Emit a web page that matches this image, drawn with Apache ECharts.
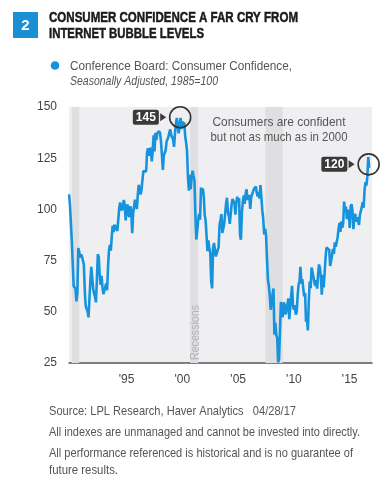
<!DOCTYPE html>
<html><head><meta charset="utf-8">
<script src="https://cdn.jsdelivr.net/npm/echarts@6/dist/echarts.min.js"></script>
<style>html,body{margin:0;padding:0;background:#fff}#c{width:390px;height:491px}</style>
</head><body><div id="c"></div>
<script>
const FONT = "'Liberation Sans', Arial, sans-serif";

// Monthly data, May 1990 .. Apr 2017
const startYear = 1990;
const startMonth = 5;
const confidence = [
  107.3,102.4,101.7,84.7,85.6,62.6,61.7,61.2,
  55.1,59.4,81.1,79.4,76.4,78.0,77.0,76.1,72.9,60.1,52.7,52.5,
  50.2,47.3,56.5,65.1,71.9,72.6,61.2,59.0,57.3,54.6,65.6,78.1,
  76.7,68.5,63.2,67.6,61.9,58.6,59.2,59.3,63.8,60.5,71.9,79.8,
  82.6,79.9,86.7,92.1,88.9,92.5,91.3,90.4,89.5,89.1,100.4,103.4,
  101.4,99.4,100.2,104.6,102.0,94.6,101.4,102.4,97.3,96.3,101.6,99.2,
  88.4,98.0,98.4,104.8,103.5,100.1,107.0,112.0,111.8,107.3,109.5,114.2,
  118.7,118.9,118.5,118.5,127.9,129.9,126.3,127.6,130.2,123.4,128.1,136.2,
  128.3,137.4,133.8,137.2,136.3,138.2,137.2,133.1,126.4,119.3,126.4,126.7,
  128.9,133.1,134.0,135.5,137.7,139.0,136.2,136.0,134.2,130.5,137.0,141.7,
  144.7,140.8,137.1,137.7,144.7,139.2,143.0,140.8,142.5,135.8,132.6,128.6,
  115.7,109.2,116.9,109.9,116.1,118.9,116.3,114.0,97.0,85.3,84.9,94.6,
  97.8,95.0,110.7,108.5,110.3,106.3,97.4,94.5,93.7,79.6,84.9,80.7,
  78.8,64.8,61.4,81.0,83.6,83.5,77.0,76.6,76.8,81.7,92.5,94.8,
  97.7,88.5,88.5,93.0,93.1,102.8,105.7,98.7,96.7,92.9,92.6,102.7,
  105.1,104.4,103.0,97.5,103.1,106.2,103.6,105.5,87.5,85.2,98.3,103.8,
  106.8,102.7,107.5,109.8,104.7,105.4,107.0,100.2,105.9,105.1,105.3,110.0,
  110.2,111.2,108.2,106.3,108.5,105.3,111.9,105.6,99.5,95.2,87.8,90.6,
  87.3,76.4,65.9,62.8,58.1,51.0,51.9,58.5,61.4,38.8,44.7,38.6,
  37.4,25.3,26.9,40.8,54.8,49.3,47.4,54.5,53.4,48.7,50.6,53.6,
  56.5,46.4,52.3,57.7,62.7,52.9,51.0,53.2,48.6,49.9,57.8,63.4,
  64.8,72.0,63.8,66.0,61.7,57.6,59.2,45.2,46.4,40.9,55.2,64.8,
  61.5,71.6,69.5,68.7,64.4,62.7,65.4,61.3,68.4,73.1,71.5,66.7,
  58.4,68.0,61.9,69.0,76.2,81.4,81.0,81.8,80.2,72.4,72.0,77.5,
  80.7,78.3,83.9,81.7,82.2,86.4,90.3,93.4,89.0,94.1,91.0,93.1,
  103.8,98.8,101.4,95.2,94.6,99.8,91.0,101.3,102.6,99.1,90.4,96.3,
  97.8,94.0,96.1,94.7,92.4,97.4,96.7,101.1,103.5,100.8,109.4,113.3,
  111.6,116.1,125.6,120.3
];
const recessions = [[1990.58, 1991.25], [2001.2, 2001.92], [2007.95, 2009.5]];
const xLabelValues = [1995.5, 2000.5, 2005.5, 2010.5, 2015.5];
const xLabelTexts = ["'95", "'00", "'05", "'10", "'15"];
const notes = [
  { t: 2000.3, v: 145, text: '145' },
  { t: 2017.2, v: 122, text: '120' }
];

const points = confidence.map((v, i) => [startYear + (startMonth - 1 + i) / 12, v]);

// text helper: condensed look by horizontal scaling to a target width
const ctx = document.createElement('canvas').getContext('2d');
function txt(text, font, x, y, w, fill, align, extra) {
  ctx.font = font;
  const mw = ctx.measureText(text).width;
  return Object.assign({
    type: 'text', x: x, y: y, scaleX: w / mw, z: 100,
    style: { text: text, font: font, fill: fill, align: align || 'left', verticalAlign: 'middle' }
  }, extra || {});
}
function boldTxt(text, x, y, w) {
  const o = txt(text, 'bold 15px ' + FONT, x, y, w, '#1a1a1a');
  o.style.stroke = '#1a1a1a'; o.style.lineWidth = 0.5;
  return o;
}

const markPts = [];
notes.forEach(n => {
  markPts.push({
    coord: [n.t, n.v], symbol: 'circle', symbolSize: 21,
    itemStyle: { color: 'rgba(0,0,0,0)', borderColor: '#333', borderWidth: 1.6 },
    label: { show: true, position: 'left', distance: 10, formatter: n.text,
      backgroundColor: '#3a3a3a', color: '#fff', fontWeight: 'bold', fontSize: 12,
      fontFamily: FONT, padding: [2, 3, 1, 3], borderRadius: 2 }
  });
  markPts.push({
    coord: [n.t, n.v], symbol: 'triangle', symbolSize: [8, 6], symbolRotate: -90,
    symbolOffset: [-17, 0], itemStyle: { color: '#3a3a3a' }, label: { show: false }
  });
});

const chart = echarts.init(document.getElementById('c'), null, { renderer: 'canvas' });
chart.setOption({
  animation: false,
  grid: { left: 69, right: 18, top: 107, bottom: 128, show: true, backgroundColor: '#efeff2', borderWidth: 0 },
  xAxis: {
    type: 'value', min: 1990 + (startMonth - 1) / 12, max: 2017.5,
    axisLine: { show: true, lineStyle: { color: '#555', width: 1.5 } },
    axisTick: { show: false }, splitLine: { show: false },
    axisLabel: {
      customValues: xLabelValues, margin: 11,
      formatter: v => { const k = xLabelValues.indexOf(v); return k >= 0 ? xLabelTexts[k] : ''; },
      fontFamily: FONT, fontSize: 12, color: '#444'
    }
  },
  yAxis: {
    type: 'value', min: 25, max: 150, interval: 25,
    axisLine: { show: false }, axisTick: { show: false }, splitLine: { show: false },
    axisLabel: { margin: 12, fontFamily: FONT, fontSize: 12, color: '#444' }
  },
  graphic: [
    { type: 'rect', left: 13, top: 12, shape: { width: 25, height: 26 }, style: { fill: '#1b8fd4' } },
    { type: 'text', x: 25.5, y: 25.5, z: 100, style: { text: '2', fill: '#fff', font: 'bold 15px ' + FONT, align: 'center', verticalAlign: 'middle' } },
    boldTxt('CONSUMER CONFIDENCE A FAR CRY FROM', 49, 18, 249),
    boldTxt('INTERNET BUBBLE LEVELS', 49, 34, 155),
    { type: 'circle', shape: { cx: 55, cy: 65.5, r: 4.3 }, style: { fill: '#1793dd' } },
    txt('Conference Board: Consumer Confidence,', '13px ' + FONT, 70, 66, 222, '#555'),
    txt('Seasonally Adjusted, 1985=100', 'italic 13px ' + FONT, 70, 81, 148, '#555'),
    txt('Consumers are confident', '13.5px ' + FONT, 279, 122, 133, '#555', 'center'),
    txt('but not as much as in 2000', '13.5px ' + FONT, 279, 137, 137, '#555', 'center'),
    txt('Recessions', '12px ' + FONT, 196, 360, 55, '#b4b4b8', 'left', { rotation: Math.PI / 2 }),
    txt('Source: LPL Research, Haver Analytics   04/28/17', '13.5px ' + FONT, 49, 411, 247, '#555'),
    txt('All indexes are unmanaged and cannot be invested into directly.', '13.5px ' + FONT, 49, 432, 311, '#555'),
    txt('All performance referenced is historical and is no guarantee of', '13.5px ' + FONT, 49, 453, 304, '#555'),
    txt('future results.', '13.5px ' + FONT, 49, 470, 69, '#555')
  ],
  series: [{
    name: 'recessions', type: 'line', data: [], z: 1, silent: true,
    markArea: { silent: true, itemStyle: { color: '#dfdfe2' },
      data: recessions.map(r => [{ xAxis: r[0] }, { xAxis: r[1] }]) }
  }, {
    name: 'Conference Board: Consumer Confidence',
    type: 'line', data: points, showSymbol: false, symbol: 'circle', z: 3,
    lineStyle: { color: '#1793dd', width: 2.6 }, itemStyle: { color: '#1793dd' },
    markPoint: { silent: true, data: markPts }
  }]
});
</script></body></html>
